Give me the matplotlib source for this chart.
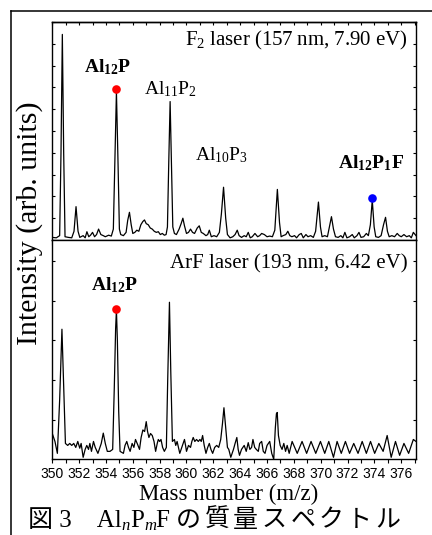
import numpy as np
import matplotlib
matplotlib.use("Agg")
import matplotlib.pyplot as plt
from matplotlib.lines import Line2D
from matplotlib.ticker import MultipleLocator

plt.rcParams["font.family"] = ["Liberation Serif", "Noto Sans CJK JP"]
plt.rcParams["mathtext.fontset"] = "custom"
plt.rcParams["mathtext.rm"] = "Liberation Serif"
plt.rcParams["mathtext.it"] = "Liberation Serif:italic"
plt.rcParams["mathtext.bf"] = "Liberation Serif:bold"

# F2 laser (157 nm) spectrum
f2_mass = [
    350.00, 350.30, 350.55, 350.65, 350.75, 350.85, 350.95, 351.20, 351.45, 351.62,
    351.77, 351.92, 352.05, 352.30, 352.45, 352.58, 352.72, 352.85, 353.00, 353.15,
    353.30, 353.45, 353.62, 353.80, 353.95, 354.20, 354.40, 354.55, 354.66, 354.78,
    354.90, 355.00, 355.10, 355.30, 355.50, 355.62, 355.75, 355.88, 356.00, 356.15,
    356.30, 356.45, 356.60, 356.75, 356.87, 357.00, 357.15, 357.30, 357.45, 357.60,
    357.75, 357.90, 358.05, 358.20, 358.35, 358.48, 358.58, 358.68, 358.78, 358.88,
    358.98, 359.10, 359.25, 359.45, 359.60, 359.73, 359.85, 360.00, 360.15, 360.30,
    360.45, 360.60, 360.80, 360.95, 361.10, 361.25, 361.45, 361.58, 361.70, 361.85,
    362.05, 362.25, 362.45, 362.60, 362.76, 362.92, 363.05, 363.25, 363.45, 363.62,
    363.78, 363.92, 364.10, 364.30, 364.45, 364.60, 364.75, 364.90, 365.10, 365.30,
    365.45, 365.60, 365.80, 366.00, 366.20, 366.40, 366.58, 366.77, 366.93, 367.05,
    367.20, 367.40, 367.55, 367.70, 367.85, 368.05, 368.20, 368.40, 368.55, 368.70,
    368.90, 369.05, 369.25, 369.45, 369.62, 369.83, 369.98, 370.10, 370.30, 370.50,
    370.65, 370.80, 370.95, 371.10, 371.30, 371.50, 371.65, 371.80, 371.95, 372.15,
    372.35, 372.50, 372.70, 372.85, 373.00, 373.20, 373.40, 373.55, 373.70, 373.84,
    373.98, 374.10, 374.30, 374.50, 374.68, 374.83, 374.97, 375.10, 375.30, 375.50,
    375.70, 375.85, 376.00, 376.20, 376.40, 376.60, 376.75, 376.90, 377.10,
]
f2_int = [
    0.12, 0.10, 0.20, 4.00, 9.43, 4.00, 0.15, 0.12, 0.10, 0.40,
    1.53, 0.40, 0.12, 0.20, 0.10, 0.38, 0.15, 0.22, 0.35, 0.15,
    0.25, 0.50, 0.25, 0.20, 0.15, 0.22, 0.18, 0.50, 3.50, 6.80,
    3.50, 0.50, 0.25, 0.20, 0.35, 0.90, 1.27, 0.70, 0.30, 0.35,
    0.45, 0.40, 0.70, 0.85, 0.92, 0.75, 0.70, 0.55, 0.50, 0.40,
    0.35, 0.38, 0.25, 0.30, 0.22, 0.25, 0.60, 3.60, 6.35, 3.40,
    0.60, 0.30, 0.25, 0.50, 0.75, 1.00, 0.65, 0.30, 0.35, 0.50,
    0.35, 0.30, 0.55, 0.65, 0.35, 0.30, 0.20, 0.25, 0.45, 0.15,
    0.20, 0.15, 0.35, 1.20, 2.42, 1.00, 0.25, 0.10, 0.15, 0.25,
    0.45, 0.20, 0.12, 0.20, 0.15, 0.35, 0.10, 0.15, 0.30, 0.15,
    0.20, 0.30, 0.25, 0.15, 0.18, 0.15, 0.45, 2.32, 0.80, 0.15,
    0.20, 0.25, 0.40, 0.20, 0.15, 0.20, 0.10, 0.25, 0.30, 0.10,
    0.25, 0.15, 0.20, 0.12, 0.40, 1.74, 0.60, 0.15, 0.20, 0.15,
    0.60, 1.07, 0.50, 0.15, 0.12, 0.20, 0.10, 0.35, 0.10, 0.15,
    0.25, 0.10, 0.20, 0.35, 0.12, 0.15, 0.30, 0.20, 0.70, 1.83,
    0.60, 0.15, 0.12, 0.20, 0.70, 1.04, 0.40, 0.15, 0.20, 0.15,
    0.30, 0.20, 0.15, 0.25, 0.15, 0.20, 0.10, 0.35, 0.20,
]

# ArF laser (193 nm) spectrum
arf_mass = [
    350.00, 350.20, 350.38, 350.55, 350.72, 350.85, 350.98, 351.15, 351.30, 351.45,
    351.60, 351.75, 351.90, 352.05, 352.15, 352.30, 352.45, 352.57, 352.70, 352.80,
    352.92, 353.07, 353.20, 353.40, 353.55, 353.65, 353.80, 353.95, 354.10, 354.30,
    354.50, 354.62, 354.72, 354.78, 354.85, 354.95, 355.05, 355.30, 355.42, 355.55,
    355.68, 355.80, 355.95, 356.08, 356.20, 356.35, 356.50, 356.62, 356.75, 356.88,
    357.00, 357.10, 357.20, 357.32, 357.45, 357.58, 357.70, 357.82, 357.90, 358.00,
    358.10, 358.22, 358.35, 358.50, 358.60, 358.73, 358.83, 358.95, 359.10, 359.20,
    359.30, 359.40, 359.50, 359.65, 359.85, 359.93, 360.00, 360.15, 360.30, 360.40,
    360.50, 360.62, 360.75, 360.88, 361.00, 361.10, 361.20, 361.32, 361.45, 361.58,
    361.70, 361.82, 361.95, 362.10, 362.25, 362.40, 362.55, 362.68, 362.79, 362.92,
    363.05, 363.15, 363.30, 363.50, 363.62, 363.75, 363.85, 363.95, 364.10, 364.30,
    364.45, 364.60, 364.72, 364.85, 364.95, 365.08, 365.20, 365.35, 365.45, 365.60,
    365.72, 365.85, 366.00, 366.20, 366.35, 366.50, 366.62, 366.70, 366.76, 366.85,
    366.98, 367.12, 367.25, 367.38, 367.50, 367.65, 367.87, 368.25, 368.61, 368.95,
    369.28, 369.63, 369.98, 370.30, 370.60, 370.95, 371.22, 371.53, 371.84, 372.15,
    372.46, 372.78, 373.09, 373.40, 373.71, 374.02, 374.33, 374.65, 374.95, 375.25,
    375.57, 375.88, 376.20, 376.55, 376.90, 377.10,
]
arf_int = [
    0.65, 0.45, 0.15, 1.50, 3.28, 1.80, 0.40, 0.35, 0.40, 0.35,
    0.40, 0.30, 0.45, 0.28, 0.40, 0.05, 0.25, 0.35, 0.25, 0.40,
    0.20, 0.45, 0.30, 0.15, 0.30, 0.40, 0.66, 0.40, 0.20, 0.20,
    0.25, 1.80, 3.30, 3.76, 3.00, 1.20, 0.20, 0.15, 0.35, 0.45,
    0.30, 0.20, 0.40, 0.30, 0.50, 0.38, 0.25, 0.55, 0.74, 0.70,
    0.95, 0.70, 0.55, 0.65, 0.60, 0.45, 0.20, 0.40, 0.50, 0.45,
    0.50, 0.30, 0.20, 0.30, 2.00, 3.96, 2.20, 0.45, 0.50, 0.35,
    0.45, 0.30, 0.15, 0.30, 0.50, 0.35, 0.20, 0.35, 0.30, 0.45,
    0.55, 0.45, 0.50, 0.45, 0.50, 0.45, 0.60, 0.35, 0.15, 0.30,
    0.40, 0.25, 0.15, 0.30, 0.35, 0.30, 0.50, 0.90, 1.30, 0.80,
    0.30, 0.25, 0.05, 0.25, 0.40, 0.55, 0.25, 0.10, 0.25, 0.35,
    0.20, 0.42, 0.25, 0.30, 0.50, 0.30, 0.25, 0.20, 0.40, 0.45,
    0.20, 0.15, 0.35, 0.45, 0.15, 0.00, 0.80, 1.15, 1.18, 0.60,
    0.35, 0.25, 0.40, 0.20, 0.35, 0.15, 0.45, 0.15, 0.45, 0.15,
    0.45, 0.15, 0.45, 0.15, 0.45, 0.05, 0.45, 0.15, 0.45, 0.15,
    0.40, 0.15, 0.45, 0.15, 0.45, 0.15, 0.40, 0.20, 0.60, 0.05,
    0.45, 0.10, 0.40, 0.15, 0.50, 0.45,
]

# marked peaks: (mass, intensity)
f2_red = (354.78, 6.92)
f2_blue = (373.84, 1.92)
arf_red = (354.78, 3.78)

mass_ticks = list(range(350, 377, 2))
x_range = (350, 377.1)
f2_ylim = (0, 10)
arf_ylim = (0, 5.53)


def style_axis(ax, ylim, ystep):
    ax.set_xlim(*x_range)
    ax.set_ylim(*ylim)
    ax.yaxis.set_major_locator(MultipleLocator(ystep))
    ax.tick_params(axis="y", direction="in", left=True, right=True,
                   labelleft=False, length=2.5, width=0.8)
    ax.xaxis.set_major_locator(MultipleLocator(1))
    for sp in ax.spines.values():
        sp.set_linewidth(1.0)


def main() -> None:
    fig = plt.figure(figsize=(4.32, 5.35), dpi=100)
    ax1 = fig.add_axes([0.121, 0.5514, 0.842, 0.4075])
    ax2 = fig.add_axes([0.121, 0.1415, 0.842, 0.4099])

    # --- top: F2 laser ---
    ax1.plot(f2_mass, f2_int, color="black", lw=0.9)
    ax1.plot(*f2_red, "o", color="#ff0000", ms=6.2, mec="none")
    ax1.plot(*f2_blue, "o", color="#0000ff", ms=6.2, mec="none")
    style_axis(ax1, f2_ylim, 1)
    ax1.tick_params(axis="x", direction="out", bottom=True, top=False,
                    labelbottom=False, length=3.5, width=0.8)
    top = ax1.secondary_xaxis("top")
    top.xaxis.set_major_locator(MultipleLocator(1))
    top.tick_params(direction="in", length=2.5, width=0.8, labeltop=False)
    top.spines["top"].set_linewidth(1.0)

    ax1.text(0.978, 0.917, "F$_2$ laser (157 nm, 7.90 eV)", transform=ax1.transAxes,
             ha="right", va="center", fontsize=15)
    ax1.text(0.152, 0.794, r"$\mathbf{Al_{12}P}$", transform=ax1.transAxes,
             ha="center", va="center", fontsize=14)
    ax1.text(0.326, 0.693, "Al$_{11}$P$_2$", transform=ax1.transAxes,
             ha="center", va="center", fontsize=14)
    ax1.text(0.464, 0.39, "Al$_{10}$P$_3$", transform=ax1.transAxes,
             ha="center", va="center", fontsize=14)
    ax1.text(0.876, 0.353, r"$\mathbf{Al_{12}P_1F}$", transform=ax1.transAxes,
             ha="center", va="center", fontsize=14)

    # --- bottom: ArF laser ---
    ax2.plot(arf_mass, arf_int, color="black", lw=0.9)
    ax2.plot(*arf_red, "o", color="#ff0000", ms=6.2, mec="none")
    style_axis(ax2, arf_ylim, 1)
    ax2.set_xticks(mass_ticks)
    ax2.xaxis.set_minor_locator(MultipleLocator(1))
    ax2.tick_params(axis="x", which="both", direction="out", top=False,
                    length=3.2, width=0.8, pad=2.5, labelsize=10)
    for lab in ax2.get_xticklabels():
        lab.set_fontfamily("Liberation Sans")

    ax2.text(0.978, 0.89, "ArF laser (193 nm, 6.42 eV)", transform=ax2.transAxes,
             ha="right", va="center", fontsize=15)
    ax2.text(0.172, 0.795, r"$\mathbf{Al_{12}P}$", transform=ax2.transAxes,
             ha="center", va="center", fontsize=14)

    fig.text(30 / 432, 1 - 223 / 535, "Intensity (arb. units)", rotation=90,
             ha="center", va="center", fontsize=21.5)
    fig.text(229 / 432, 1 - 500 / 535, "Mass number (m/z)",
             ha="center", va="baseline", fontsize=16.5)

    # caption, built piece by piece so CJK fallback works
    renderer = fig.canvas.get_renderer()
    x = 28 / 432
    y = 1 - 527 / 535
    pieces = [
        ("図 3\u3000Al", 18, "normal", 0, 0),
        ("n", 12, "italic", -3, 0),
        ("P", 18, "normal", 0, 0),
        ("m", 12, "italic", -3, 0),
        ("F ", 18, "normal", 0, 0),
    ]
    pieces += [(ch, 18, "normal", 0, 3.5) for ch in "の質量スペクトル"]
    for s, size, style, dy, gap in pieces:
        t = fig.text(x, y + dy / 535, s, fontsize=size, style=style,
                     ha="left", va="baseline")
        bb = t.get_window_extent(renderer)
        x += (bb.width + gap) / 432

    # outer frame (left and top)
    fig.add_artist(Line2D([11 / 432, 11 / 432], [0, 1 - 11 / 535], color="black", lw=1.1))
    fig.add_artist(Line2D([11 / 432, 1], [1 - 11 / 535, 1 - 11 / 535], color="black", lw=1.1))

    fig.savefig("out.png", dpi=100)
    plt.close(fig)


if __name__ == "__main__":
    main()
